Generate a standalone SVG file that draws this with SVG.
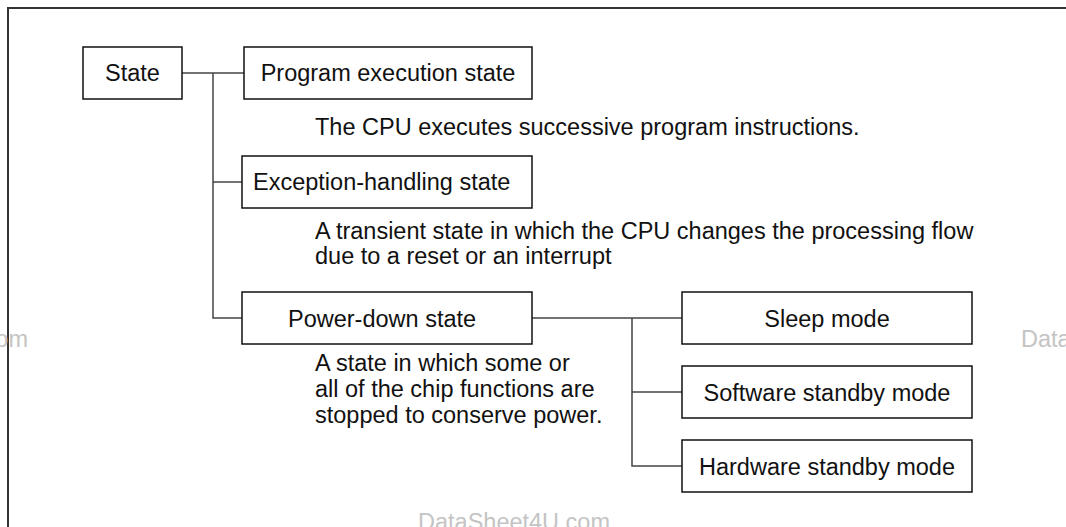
<svg xmlns="http://www.w3.org/2000/svg" width="1066" height="527" viewBox="0 0 1066 527">
<style>
.box{fill:#fff;stroke:#111;stroke-width:1.5}
.lbl{font-family:"Liberation Sans",Arial,sans-serif;font-size:23.5px;fill:#111}
.mid{text-anchor:middle}
.conn{fill:none;stroke:#444;stroke-width:1.5}
.wm{font-family:"Liberation Sans",Arial,sans-serif;font-size:23.5px;fill:#c4c4c4}
</style>
<rect x="0" y="0" width="1066" height="527" fill="#fff"/>
<path d="M8 527 V8 H1066" fill="none" stroke="#333" stroke-width="2"/>
<g id="watermarks">
<text class="wm" x="28" y="347" text-anchor="end">om</text>
<text class="wm" x="1021" y="347">Data</text>
<text class="wm" x="418" y="530">DataSheet4U.com</text>
</g>
<g id="connectors">
<path class="conn" d="M182 73 H244"/>
<path class="conn" d="M213 73 V318 H242"/>
<path class="conn" d="M213 182 H242"/>
<path class="conn" d="M532 318 H682"/>
<path class="conn" d="M632 318 V466 H682"/>
<path class="conn" d="M632 392 H682"/>
</g>
<g id="state">
<rect class="box" x="83" y="47" width="99" height="52"/>
<text class="lbl mid" x="132.5" y="81">State</text>
</g>
<g id="program">
<rect class="box" x="244" y="47" width="288" height="52"/>
<text class="lbl mid" x="388" y="81">Program execution state</text>
<text class="lbl" x="315" y="135">The CPU executes successive program instructions.</text>
</g>
<g id="exception">
<rect class="box" x="242" y="156" width="290" height="52"/>
<text class="lbl" x="253" y="190">Exception-handling state</text>
<text class="lbl" x="315" y="239">A transient state in which the CPU changes the processing flow</text>
<text class="lbl" x="315" y="264">due to a reset or an interrupt</text>
</g>
<g id="powerdown">
<rect class="box" x="242" y="292" width="290" height="52"/>
<text class="lbl" x="288" y="327">Power-down state</text>
<text class="lbl" x="315" y="371">A state in which some or</text>
<text class="lbl" x="315" y="397">all of the chip functions are</text>
<text class="lbl" x="315" y="423">stopped to conserve power.</text>
</g>
<g id="sleep">
<rect class="box" x="682" y="292" width="290" height="52"/>
<text class="lbl mid" x="827" y="327">Sleep mode</text>
</g>
<g id="software">
<rect class="box" x="682" y="366" width="290" height="52"/>
<text class="lbl mid" x="827" y="401">Software standby mode</text>
</g>
<g id="hardware">
<rect class="box" x="682" y="440" width="290" height="52"/>
<text class="lbl mid" x="827" y="475">Hardware standby mode</text>
</g>
</svg>
